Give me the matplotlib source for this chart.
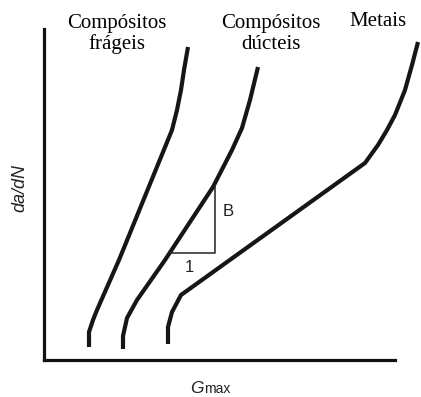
import matplotlib
matplotlib.use("Agg")
import matplotlib.pyplot as plt

# curve data (G, da/dN) in arbitrary units, origin at the axes corner
frageis_x = [45, 45, 49, 53, 75, 128, 133, 137, 140, 144]
frageis_y = [13, 28, 40, 50, 100, 230, 250, 270, 290, 313]

ducteis_x = [79, 79, 83, 93, 121, 169, 188, 198, 206, 214]
ducteis_y = [11, 24, 42, 60, 100, 173, 210, 232, 260, 293]

metais_x = [124, 124, 128, 137, 321, 334, 343, 351, 361, 368, 374]
metais_y = [16, 33, 48, 65, 197, 215, 230, 245, 270, 295, 318]

# slope triangle on the ductile curve
tri_x = [126, 171, 171]
tri_y = [107, 107, 175]

serif = "Liberation Serif"
sans = "Liberation Sans"

fig = plt.figure(figsize=(4.21, 3.97), dpi=100)
ax = fig.add_axes([44 / 421, 37 / 397, 351 / 421, 331 / 397])
ax.set_xlim(0, 351)
ax.set_ylim(0, 331)

for s in ["top", "right"]:
    ax.spines[s].set_visible(False)
for s in ["left", "bottom"]:
    ax.spines[s].set_linewidth(2.3)
    ax.spines[s].set_color("#111111")
ax.set_xticks([])
ax.set_yticks([])

for xs, ys in [(frageis_x, frageis_y), (ducteis_x, ducteis_y), (metais_x, metais_y)]:
    ax.plot(xs, ys, color="#161616", lw=3.0, solid_joinstyle="round",
            solid_capstyle="butt", clip_on=False)

ax.plot(tri_x, tri_y, color="#222222", lw=1.1, clip_on=False)
ax.text(184, 149, "B", fontsize=12, family=sans, ha="center", va="center", color="#222222")
ax.text(145, 92, "1", fontsize=12, family=sans, ha="center", va="center", color="#222222")

ax.text(73, 326, "Compósitos\nfrágeis", fontsize=15, family=serif, ha="center",
        va="center", linespacing=1.1, clip_on=False)
ax.text(227, 326, "Compósitos\ndúcteis", fontsize=15, family=serif, ha="center",
        va="center", linespacing=1.1, clip_on=False)
ax.text(334, 338, "Metais", fontsize=15, family=serif, ha="center", va="center",
        clip_on=False)

ax.text(-24, 172, "da/dN", fontsize=13, family=sans, style="italic", rotation=90,
        ha="center", va="center", color="#222222")
ax.text(160, -33, "G", fontsize=12.5, family=sans, style="italic", ha="right",
        va="baseline", color="#222222")
ax.text(160.5, -33, "max", fontsize=10, family=sans, ha="left", va="baseline",
        color="#222222")

fig.savefig("out.png", dpi=100)
